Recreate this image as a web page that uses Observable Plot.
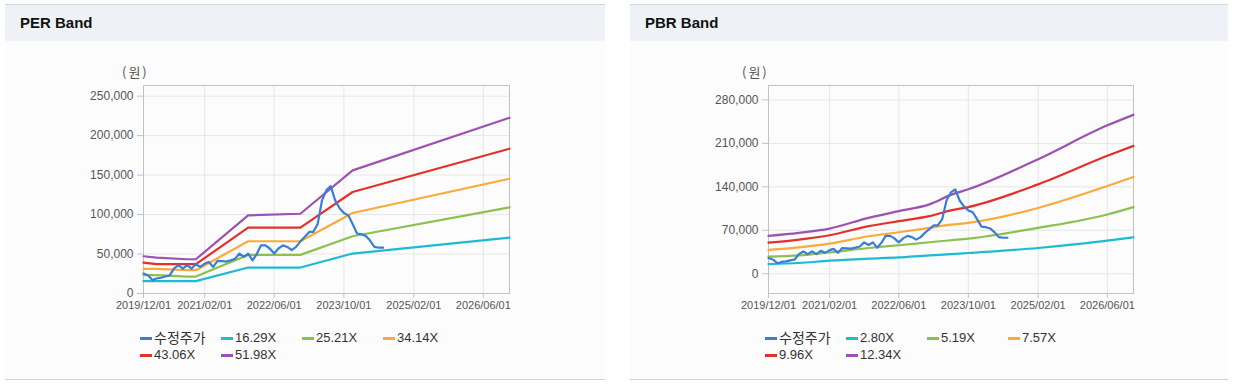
<!DOCTYPE html>
<html>
<head>
<meta charset="utf-8">
<script src="https://cdn.jsdelivr.net/npm/d3@7"></script>
<script src="https://cdn.jsdelivr.net/npm/@observablehq/plot@0.6"></script>
<style>
  html, body { margin: 0; padding: 0; background: #ffffff; width: 1237px; height: 384px; overflow: hidden; }
  body { position: relative; font-family: "Liberation Sans", Arial, "Noto Sans CJK KR", sans-serif; }
  .panel { position: absolute; top: 4px; height: 374px; background: #fcfcfd; border-top: 1px solid #d6d6d6; border-bottom: 1px solid #d0d0d0; }
  .head { position: absolute; left: 0; right: 0; top: 0; height: 36px; background: #eef2f7; }
  .head span { position: absolute; left: 15px; top: 9px; font-weight: bold; font-size: 15px; color: #111; }
  .unit { position: absolute; font-size: 13px; color: #555; letter-spacing: 2px; font-family: "Noto Sans CJK KR", sans-serif; }
  .chart { position: absolute; top: 51px; }
  .legend { position: absolute; top: 325px; width: 340px; font-size: 13px; color: #333; }
  .item { position: absolute; white-space: nowrap; height: 16px; line-height: 16px; display: flex; align-items: center; font-family: "Liberation Sans", Arial, "Noto Sans CJK KR", sans-serif; }
  .item .t { display: inline-block; line-height: 16px; }
  .item .t.ko { font-size: 14px; font-family: "Noto Sans CJK KR", sans-serif; line-height: 16px; position: relative; top: -1px; }
  .sw { display: inline-block; width: 12px; height: 3px; margin-right: 2px; }
</style>
</head>
<body>
<div class="panel" id="p1" style="left:5px; width:600px;"><div class="head"><span>PER Band</span></div></div>
<div class="panel" id="p2" style="left:630px; width:598px;"><div class="head"><span>PBR Band</span></div></div>
<script>
// ---- data ----
const xTickDates = ["2019-12-01","2021-02-01","2022-06-01","2023-10-01","2025-02-01","2026-06-01"];
const perYTicks = [0, 50000, 100000, 150000, 200000, 250000];
const pbrYTicks = [0, 70000, 140000, 210000, 280000];

const priceLabel = "수정주가";
const priceDates = [
  "2019-12-01","2020-01-01","2020-02-01","2020-03-01","2020-04-01","2020-05-01","2020-06-01","2020-07-01","2020-08-01","2020-09-01","2020-10-01","2020-11-01",
  "2020-12-01","2021-01-01","2021-02-01","2021-03-01","2021-04-01","2021-05-01","2021-06-01","2021-07-01","2021-08-01","2021-09-01","2021-10-01","2021-11-01",
  "2021-12-01","2022-01-01","2022-02-01","2022-03-01","2022-04-01","2022-05-01","2022-06-01","2022-07-01","2022-08-01","2022-09-01","2022-10-01","2022-11-01",
  "2022-12-01","2023-01-01","2023-02-01","2023-03-01","2023-04-01","2023-05-01","2023-06-01","2023-07-01","2023-08-01","2023-09-01","2023-10-01","2023-11-01",
  "2023-12-01","2024-01-01","2024-02-01","2024-03-01","2024-04-01","2024-05-01","2024-06-01","2024-07-01"];
const priceValues = [
  25300, 23000, 17000, 19000, 20000, 21500, 23000, 31600, 35800, 31600, 36000, 31600,
  37000, 33700, 38000, 40000, 33700, 41300, 41000, 40500, 42000, 44000, 50600, 46400,
  50600, 42000, 50600, 61000, 61000, 57000, 50600, 57000, 61000, 59000, 55000, 59000,
  66000, 72000, 78000, 78000, 88000, 118000, 131000, 136000, 118000, 108000, 102000, 99000,
  88000, 76000, 75000, 73000, 67000, 59000, 58000, 58000];

// PER band
const perLabels = ["16.29X", "25.21X", "34.14X", "43.06X", "51.98X"];
const perDates = ["2019-12-01","2020-03-01","2020-10-01","2020-12-01","2021-12-01","2022-12-01","2023-12-01","2026-12-01"];
const per1629 = [15600, 15600, 15600, 15600, 32900, 32900, 50600, 70800];
const per2521 = [23200, 23200, 21500, 21500, 48900, 48900, 72500, 109200];
const per3414 = [31200, 31200, 29500, 29500, 66200, 66200, 102000, 145400];
const per4306 = [39200, 37100, 37100, 37100, 83500, 83500, 128600, 183400];
const per5198 = [47200, 45500, 43400, 43400, 99000, 101000, 156000, 222600];

// PBR band
const pbrLabels = ["2.80X", "5.19X", "7.57X", "9.96X", "12.34X"];
const pbrDates = ["2019-12-01","2020-07-01","2021-02-01","2021-11-01","2022-06-01","2023-01-01","2023-06-01","2023-10-01","2025-02-01","2026-06-01","2026-12-01"];
const pbr280 = [15600, 17300, 21000, 24300, 26400, 29700, 31500, 33400, 41500, 53400, 58800];
const pbr519 = [27500, 29700, 34500, 41500, 45900, 50700, 54000, 56600, 73900, 95500, 107400];
const pbr757 = [38500, 42600, 48600, 60400, 66900, 73900, 79000, 82000, 106000, 141300, 156000];
const pbr996 = [50000, 55000, 62000, 76600, 84700, 92800, 102000, 107400, 144000, 190000, 206000];
const pbr1234 = [61000, 65800, 72800, 90000, 100900, 111700, 127000, 136000, 184500, 239000, 256000];

const priceColor = "#3a7dd8";
const bandColors = ["#1cbbd3", "#8cc04f", "#fbaa3a", "#e2312b", "#9c52b1"];

// ---- build ----
const parse = d3.utcParse("%Y-%m-%d");
const toRows = (dates, vals) => dates.map((d, i) => ({date: parse(d), value: vals[i]}));
const xTicks = xTickDates.map(parse);
const xDomain = [parse("2019-12-01"), parse("2026-12-01")];

function chart({yDomain, yTicks, bandDates, bands, width, marginRight, curve}) {
  const marks = [
    Plot.gridY(yTicks, {stroke: "#e6e6e6", strokeOpacity: 1}),
    Plot.gridX(xTicks, {stroke: "#e6e6e6", strokeOpacity: 1}),
    Plot.frame({stroke: "#c2c2c2"}),
    Plot.axisY(yTicks, {tickSize: 6, tickPadding: 4, tickFormat: d3.format(","), label: null, stroke: "#c2c2c2", fill: "#555", fontSize: 12}),
    Plot.axisX(xTicks, {tickSize: 5, tickPadding: 3, tickFormat: d3.utcFormat("%Y/%m/%d"), label: null, stroke: "#c2c2c2", fill: "#555", fontSize: 11})
  ];
  bands.forEach((vals, i) => {
    marks.push(Plot.line(toRows(bandDates, vals), {x: "date", y: "value", stroke: bandColors[i], strokeWidth: 2.2, curve}));
  });
  marks.push(Plot.line(toRows(priceDates, priceValues), {x: "date", y: "value", stroke: priceColor, strokeWidth: 2.2, strokeLinejoin: "round"}));
  return Plot.plot({
    width, height: 264,
    marginLeft: 138, marginRight, marginTop: 29, marginBottom: 27,
    style: {background: "transparent", fontFamily: '"Liberation Sans", Arial, sans-serif', overflow: "visible"},
    x: {type: "utc", domain: xDomain},
    y: {domain: yDomain},
    marks
  });
}

function legend(labels) {
  const all = [{label: priceLabel, color: priceColor, ko: true}].concat(labels.map((l, i) => ({label: l, color: bandColors[i]})));
  const div = document.createElement("div");
  div.className = "legend";
  div.style.left = "135px";
  all.forEach((it, i) => {
    const el = document.createElement("div");
    el.className = "item";
    el.style.left = (81 * (i % 4)) + "px";
    el.style.top = (17 * Math.floor(i / 4)) + "px";
    el.innerHTML = `<span class="sw" style="background:${it.color}"></span><span class="t${it.ko ? " ko" : ""}">${it.label}</span>`;
    div.appendChild(el);
  });
  return div;
}

function unit(left) {
  const u = document.createElement("div");
  u.className = "unit";
  u.style.left = left + "px";
  u.style.top = "57px";
  u.textContent = "(원)";
  return u;
}

const p1 = document.getElementById("p1");
const c1 = chart({yDomain: [0, 263500], yTicks: perYTicks, bandDates: perDates,
  bands: [per1629, per2521, per3414, per4306, per5198], width: 600, marginRight: 96, curve: "linear"});
c1.classList.add("chart");
c1.style.left = "0px";
p1.appendChild(c1);
p1.appendChild(unit(117));
p1.appendChild(legend(perLabels));

const p2 = document.getElementById("p2");
const c2 = chart({yDomain: [-31800, 303200], yTicks: pbrYTicks, bandDates: pbrDates,
  bands: [pbr280, pbr519, pbr757, pbr996, pbr1234], width: 598, marginRight: 95, curve: "monotone-x"});
c2.classList.add("chart");
c2.style.left = "0px";
p2.appendChild(c2);
p2.appendChild(unit(112));
p2.appendChild(legend(pbrLabels));
</script>
</body>
</html>
